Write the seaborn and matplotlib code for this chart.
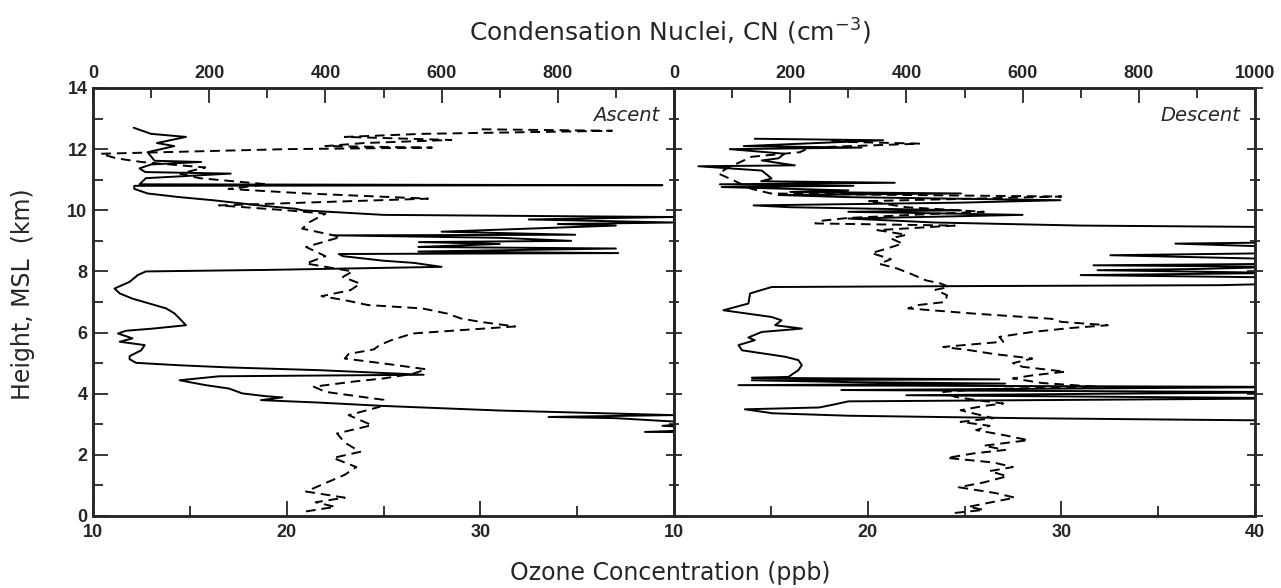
import numpy as np
import pandas as pd
import seaborn as sns
import matplotlib.pyplot as plt

sns.set_style("ticks")
plt.rcParams['font.family'] = ['DejaVu Sans']

# Ascent: ozone (ppb) vs height (km)
asc_o3_h = [0.15, 0.3, 0.45, 0.6, 0.8, 1.35, 1.6, 1.9, 2.1, 2.4, 2.7, 2.97, 3.3, 3.57, 3.8,
            4.06, 4.23, 4.4, 4.5, 4.65, 4.8, 4.99, 5.15, 5.3, 5.45, 5.59, 5.75, 5.97, 6.08,
            6.2, 6.35, 6.46, 6.62, 6.79, 6.9, 7.06, 7.19, 7.39, 7.6, 7.82, 8.0, 8.26, 8.5,
            8.8, 9.13, 9.4, 9.62, 9.89, 10.0, 10.16, 10.38, 10.55, 10.7, 10.85, 11.05, 11.2,
            11.4, 11.58, 11.7, 11.85, 12.0, 12.05, 12.1, 12.2, 12.3, 12.4, 12.5, 12.6, 12.65]
asc_o3 = [21.0, 22.5, 21.5, 23.0, 21.0, 23.0, 23.6, 22.4, 23.8, 23.0, 22.6, 24.4, 23.2, 24.8, 25.0,
          22.0, 21.4, 23.5, 25.0, 26.5, 27.2, 25.0, 23.0, 23.2, 24.5, 24.8, 25.4, 26.5, 29.0,
          31.8, 30.0, 29.0, 28.3, 27.0, 24.2, 23.0, 21.8, 23.3, 23.8, 22.9, 23.4, 21.0, 22.0,
          21.0, 22.8, 20.8, 21.2, 22.0, 20.0, 16.5, 27.3, 21.0, 17.0, 19.0, 15.5, 14.5,
          15.8, 12.5, 11.2, 10.4, 20.0, 27.5, 22.0, 24.0, 28.5, 23.0, 27.0, 36.8, 30.0]

# Ascent: condensation nuclei (cm-3) vs height (km)
asc_cn_h = [0.0, 2.7, 2.75, 2.85, 2.95, 3.05, 3.1, 3.2, 3.24, 3.27, 3.3, 3.45, 3.6, 3.71, 3.79,
            3.88, 3.92, 4.01, 4.17, 4.28, 4.34, 4.44, 4.57, 4.62, 4.72, 4.77, 4.86, 4.93, 5.01,
            5.13, 5.23, 5.42, 5.59, 5.70, 5.81, 5.97, 6.06, 6.13, 6.24, 6.46, 6.63, 6.79, 6.95,
            7.11, 7.28, 7.44, 7.66, 7.88, 8.0, 8.05, 8.15, 8.28, 8.35, 8.5, 8.57, 8.6, 8.65,
            8.75, 8.8, 8.9, 8.96, 9.0, 9.1, 9.18, 9.2, 9.3, 9.5, 9.55, 9.6, 9.7, 9.78, 9.85,
            10.0, 10.05, 10.16, 10.33, 10.43, 10.55, 10.7, 10.8, 10.82, 10.85, 11.05, 11.2,
            11.25, 11.37, 11.5, 11.58, 11.62, 11.9, 12.1, 12.2, 12.4, 12.5, 12.7]
asc_cn = [1500, 1500, 950, 1100, 980, 1050, 990, 900, 784, 890, 1000, 700, 500, 389, 289,
          326, 297, 257, 234, 194, 177, 149, 217, 569, 450, 389, 234, 149, 74,
          63, 63, 83, 89, 46, 68, 43, 57, 103, 160, 149, 140, 126, 97,
          68, 46, 37, 63, 77, 91, 300, 600, 552, 500, 430, 423, 904, 560,
          900, 560, 700, 561, 823, 700, 415, 830, 600, 900, 800, 1000, 750, 1000, 500,
          360, 349, 286, 206, 149, 94, 71, 71, 980, 80, 91, 237,
          90, 80, 100, 186, 106, 94, 140, 110, 160, 100, 70]

# Descent: ozone (ppb) vs height (km)
des_o3_h = [0.1, 0.2, 0.3, 0.4, 0.6, 0.75, 0.94, 1.1, 1.3, 1.47, 1.6, 1.75, 1.9, 2.05, 2.16,
            2.3, 2.48, 2.65, 2.81, 2.95, 3.08, 3.2, 3.35, 3.46, 3.6, 3.68, 3.8, 3.9, 4.06,
            4.15, 4.23, 4.35, 4.5, 4.6, 4.72, 4.88, 5.0, 5.15, 5.3, 5.42, 5.53, 5.62, 5.7,
            5.86, 6.02, 6.15, 6.24, 6.35, 6.45, 6.62, 6.79, 6.9, 7.0, 7.22, 7.4, 7.49, 7.6,
            7.71, 7.93, 8.1, 8.25, 8.4, 8.6, 8.75, 8.91, 9.08, 9.2, 9.35, 9.5, 9.57, 9.65,
            9.75, 9.9, 9.95, 10.1, 10.3, 10.45, 10.5, 10.55, 10.7, 10.85, 11.0, 11.2, 11.4,
            11.6, 11.75, 11.9, 12.05, 12.18, 12.25, 12.3]
des_o3 = [24.5, 26.0, 25.2, 26.0, 27.6, 26.6, 24.7, 26.0, 27.2, 26.3, 27.5, 26.5, 24.1, 25.5, 27.1,
          26.0, 28.3, 27.0, 25.6, 26.3, 24.8, 26.5, 25.5, 24.8, 26.0, 27.0, 25.5, 24.5, 23.9,
          26.0, 31.8, 29.0, 27.5, 28.5, 30.2, 28.0, 27.5, 28.5, 26.5, 25.3, 23.9, 25.5, 27.0,
          26.8, 28.5, 30.5, 32.4, 30.0, 29.5, 25.5, 22.1, 22.6, 24.0, 24.1, 23.5, 24.2, 23.8,
          23.0, 22.2, 21.5, 20.6, 21.2, 20.2, 21.0, 21.8, 21.2, 22.0, 20.5, 24.5, 17.3, 17.5,
          19.0, 24.0, 26.0, 22.0, 20.0, 30.0, 22.0, 15.0, 14.0, 13.5, 13.0, 12.3, 12.8,
          13.5, 14.0, 16.5, 17.0, 22.7, 18.0, 19.5]

# Descent: condensation nuclei (cm-3) vs height (km)
des_cn_h = [0.0, 3.05, 3.14, 3.2, 3.28, 3.36, 3.49, 3.55, 3.65, 3.75, 3.85, 3.95, 4.05, 4.12,
            4.22, 4.28, 4.33, 4.38, 4.44, 4.47, 4.52, 4.55, 4.77, 4.93, 5.1, 5.21, 5.42, 5.59,
            5.75, 5.84, 6.02, 6.13, 6.24, 6.4, 6.51, 6.73, 6.95, 7.28, 7.49, 7.52, 7.55, 7.6,
            7.8, 7.88, 7.95, 8.04, 8.08, 8.15, 8.2, 8.25, 8.4, 8.53, 8.6, 8.8, 8.91, 8.95,
            9.45, 9.5, 9.6, 9.73, 9.85, 9.95, 10.0, 10.1, 10.16, 10.25, 10.33, 10.43, 10.5,
            10.55, 10.6, 10.65, 10.76, 10.8, 10.85, 10.9, 10.95, 11.04, 11.3, 11.44, 11.47,
            11.63, 11.7, 11.85, 12.0, 12.05, 12.1, 12.29, 12.34]
des_cn = [1500, 1500, 940, 600, 300, 170, 122, 250, 276, 300, 1100, 400, 1100, 288,
          1100, 111, 570, 300, 134, 560, 134, 197, 214, 220, 214, 191, 117, 111,
          139, 128, 151, 220, 174, 185, 168, 85, 128, 131, 168, 500, 940, 1050,
          1050, 700, 1050, 729, 900, 1050, 722, 1050, 1050, 751, 1050, 1050, 863, 1050,
          1050, 700, 450, 300, 600, 300, 494, 200, 137, 494, 665, 300, 180,
          494, 200, 300, 82, 309, 79, 380, 150, 168, 151, 42, 208,
          151, 180, 190, 96, 323, 120, 360, 139]

fig = plt.figure(figsize=(12.81, 5.88), dpi=100)
ax1 = fig.add_axes([93 / 1281, 72 / 588, 581 / 1281, 428 / 588])
ax2 = fig.add_axes([674 / 1281, 72 / 588, 581 / 1281, 428 / 588], sharey=ax1)

panels = [
    (ax1, asc_o3, asc_o3_h, asc_cn, asc_cn_h, "Ascent", True),
    (ax2, des_o3, des_o3_h, des_cn, des_cn_h, "Descent", False),
]

tick_font = dict(family="Liberation Sans", weight="bold", size=13)

for ax, o3, o3_h, cn, cn_h, name, first in panels:
    top = ax.twiny()
    # dashed = ozone on the bottom scale, solid = CN on the top scale
    sns.lineplot(x=o3, y=o3_h, sort=False, estimator=None, ax=ax,
                 color="black", lw=1.4, linestyle=(0, (5, 3)))
    sns.lineplot(x=cn, y=cn_h, sort=False, estimator=None, ax=top,
                 color="black", lw=1.4)
    ax.set_xlim(10, 40)
    top.set_xlim(0, 1000)
    ax.set_ylim(0, 14)
    ax.set_xlabel("")
    ax.set_ylabel("")
    top.set_xlabel("")

    ax.set_xticks([10, 20, 30] if first else [10, 20, 30, 40])
    ax.set_xticks([15, 25, 35], minor=True)
    top.set_xticks([0, 200, 400, 600, 800] if first else [0, 200, 400, 600, 800, 1000])
    top.set_xticks(np.arange(100, 1000, 200), minor=True)
    ax.set_yticks(np.arange(0, 15, 2))
    ax.set_yticks(np.arange(1, 14, 2), minor=True)

    ax.tick_params(axis="x", which="major", direction="in", length=11, width=1.3, pad=6)
    ax.tick_params(axis="x", which="minor", direction="in", length=7, width=1.3)
    top.tick_params(axis="x", which="major", direction="in", length=11, width=1.3, pad=4)
    top.tick_params(axis="x", which="minor", direction="in", length=7, width=1.3)
    ydir = "in" if first else "inout"
    ax.tick_params(axis="y", which="major", direction=ydir, length=11, width=1.3,
                   left=True, right=not first, pad=4)
    ax.tick_params(axis="y", which="minor", direction=ydir, length=7, width=1.3,
                   left=True, right=not first)
    if not first:
        ax.tick_params(axis="y", labelleft=False)

    for lab in ax.get_xticklabels() + top.get_xticklabels() + ax.get_yticklabels():
        lab.set_fontproperties(tick_font)

    for a in (ax, top):
        for sp in a.spines.values():
            sp.set_linewidth(1.8)
            sp.set_visible(True)

    ax.text(0.975, 0.935, name, transform=ax.transAxes, ha="right", va="center",
            fontsize=14, style="italic")

fig.text(0.523, 0.945, "Condensation Nuclei, CN (cm$^{-3}$)", ha="center", va="center",
         fontsize=18)
fig.text(0.523, 0.025, "Ozone Concentration (ppb)", ha="center", va="center", fontsize=17)
fig.text(0.018, 0.5, "Height, MSL  (km)", ha="center", va="center", rotation=90,
         fontsize=17)

fig.savefig("out.png", dpi=100)
